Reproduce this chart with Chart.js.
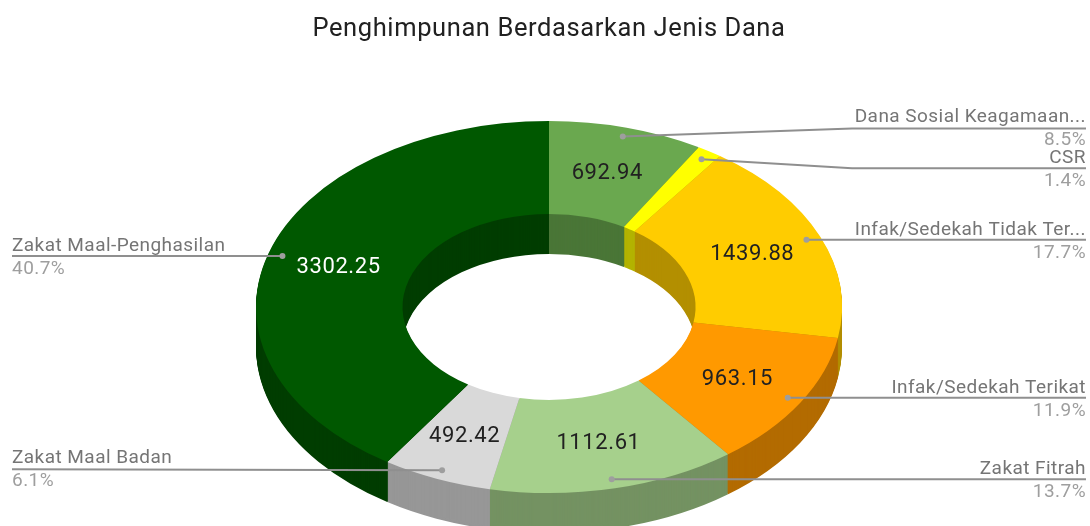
<!DOCTYPE html>
<html>
<head>
<meta charset="utf-8">
<style>
html,body{margin:0;padding:0;background:#fff;overflow:hidden;width:1090px;height:526px}
canvas{display:block}
</style>
<script src="https://cdn.jsdelivr.net/npm/chart.js@4/dist/chart.umd.min.js"></script>
</head>
<body>
<canvas id="c" width="1090" height="526"></canvas>
<script>
const titleText = 'Penghimpunan Berdasarkan Jenis Dana';
const categories = ['Dana Sosial Keagamaan...','CSR','Infak/Sedekah Tidak Ter...','Infak/Sedekah Terikat','Zakat Fitrah','Zakat Maal Badan','Zakat Maal-Penghasilan'];
const values = [692.94,112,1439.88,963.15,1112.61,492.42,3302.25];
const valueLabels = ['692.94','','1439.88','963.15','1112.61','492.42','3302.25'];
const percents = ['8.5%','1.4%','17.7%','11.9%','13.7%','6.1%','40.7%'];
const colors = ['#6aa84f','#ffff00','#ffcc00','#ff9900','#a6d08c','#d9d9d9','#005800'];
const wallColors = ['#4a7637','#b3b300','#b38f00','#b36b00','#749262','#979797','#003d00'];
const valueColors = ['#212121','#212121','#212121','#212121','#212121','#212121','#ffffff'];
const leaderShift = [-8,9,0,0,0,-1,0];
const textShift = [-2,0,0,0,0,-1,0];

const FONT = 'Roboto, sans-serif';
const VIEW = {cx:549, cy:307, rx:293, ry:186, depth:40};

function project(arc, frac, ang){
  return {x: VIEW.cx + VIEW.rx*frac*Math.cos(ang), y: VIEW.cy + VIEW.ry*frac*Math.sin(ang)};
}
function squash(ctx, arc, dy){
  const R = arc.outerRadius;
  ctx.translate(VIEW.cx, VIEW.cy + dy);
  ctx.scale(VIEW.rx/R, VIEW.ry/R);
  ctx.translate(-arc.x, -arc.y);
}

const pie3d = {
  id:'pie3d',
  beforeDraw(chart){
    chart.ctx.letterSpacing = '0.6px';
  },
  beforeDatasetsDraw(chart){
    const ctx = chart.ctx, arcs = chart.getDatasetMeta(0).data;
    for(let d = VIEW.depth; d >= 1; d--){
      arcs.forEach((arc,i)=>{
        const saved = arc.options;
        arc.options = {backgroundColor:wallColors[i],borderColor:wallColors[i],borderWidth:0,spacing:0,offset:0,circular:true,borderAlign:'center',borderRadius:0,borderDash:[],borderDashOffset:0,borderJoinStyle:'round'};
        ctx.save();
        squash(ctx, arc, d);
        arc.draw(ctx);
        ctx.restore();
        arc.options = saved;
      });
    }
    ctx.save();
    squash(ctx, arcs[0], 0);
  },
  afterDatasetsDraw(chart){
    const ctx = chart.ctx, arcs = chart.getDatasetMeta(0).data;
    ctx.restore();
    arcs.forEach((arc,i)=>{
      const ang = (arc.startAngle + arc.endAngle)/2;
      const dot = project(arc, 0.95, ang);
      const right = dot.x > VIEW.cx;
      const endX = right ? 1086 : 12;
      const lineY = dot.y + leaderShift[i];
      ctx.strokeStyle = '#8f8f8f';
      ctx.lineWidth = 2;
      ctx.beginPath();
      ctx.moveTo(dot.x, dot.y);
      if(right && leaderShift[i]) ctx.lineTo(852, lineY);
      ctx.lineTo(endX, lineY);
      ctx.stroke();
      ctx.fillStyle = '#9e9e9e';
      ctx.beginPath();
      ctx.arc(dot.x, dot.y, 3, 0, Math.PI*2);
      ctx.fill();

      ctx.letterSpacing = '0.45px';
      ctx.font = '19px '+FONT;
      ctx.textAlign = right ? 'right' : 'left';
      ctx.textBaseline = 'alphabetic';
      ctx.fillStyle = '#757575';
      ctx.fillText(categories[i], endX, lineY-5+textShift[i]);
      ctx.fillStyle = '#9e9e9e';
      ctx.fillText(percents[i], endX, lineY+18+textShift[i]);

      if(valueLabels[i]){
        const p = project(arc, 0.75, ang);
        ctx.letterSpacing = '0.6px';
        ctx.font = '22px '+FONT;
        ctx.textAlign = 'center';
        ctx.textBaseline = 'middle';
        ctx.fillStyle = valueColors[i];
        ctx.fillText(valueLabels[i], p.x, p.y + 1);
      }
    });
  }
};

new Chart(document.getElementById('c'),{
  type:'doughnut',
  plugins:[pie3d],
  data:{labels:categories,datasets:[{data:values,backgroundColor:colors,borderWidth:0,clip:false}]},
  options:{
    responsive:false,
    animation:false,
    cutout:'50%',
    layout:{padding:{left:8,top:14}},
    events:[],
    plugins:{
      legend:{display:false},
      tooltip:{enabled:false},
      title:{display:true,text:titleText,color:'#212121',font:{family:FONT,size:25.5,weight:'normal'},padding:{top:0,bottom:0}}
    }
  }
});
</script>
</body>
</html>
